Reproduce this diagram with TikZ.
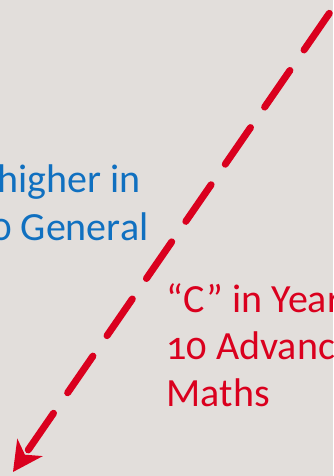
\documentclass[tikz,border=0pt]{standalone}
\usepackage{fontspec}
\setmainfont{Carlito}[Numbers=OldStyle]
\usepackage{xcolor}
\usetikzlibrary{positioning, arrows.meta}
\definecolor{slidebg}{RGB}{226,222,219}
\definecolor{gradeblue}{RGB}{16,112,192}
\definecolor{gradered}{RGB}{218,0,30}
\tikzset{
  txt/.style={inner sep=0pt, font=\fontsize{40}{47}\selectfont},
  bluelbl/.style={txt, text=gradeblue, anchor=base east},
  redlbl/.style={txt, text=gradered, anchor=base west},
  route/.style={gradered, line width=7pt, line cap=round,
                dash pattern=on 44.5pt off 24.9pt,
                -{Stealth[length=30pt, width=31pt, inset=9pt, line width=0pt]}}
}

\begin{document}
\begin{tikzpicture}[x=1pt, y=1pt]
  \useasboundingbox (0,0) rectangle (333,476);
  \clip (0,0) rectangle (333,476);
  \fill[slidebg] (0,0) rectangle (333,476);
  \node[bluelbl] (blue1) at (141,283) {higher in};
  \node[bluelbl] (blue2) at (148.5,235) {0 General};
  \node[redlbl] (red1) at (166.5,163.3) {“C” in Year};
  \node[redlbl, below=47pt of red1.base west, anchor=base west] (red2) {10 Advanc};
  \node[redlbl, below=46.7pt of red2.base west, anchor=base west] (red3) {Maths};
  \coordinate (from) at (368.7,519.8);
  \coordinate (to) at (13,4);
  \draw[route] (from) -- (to);
\end{tikzpicture}
\end{document}
